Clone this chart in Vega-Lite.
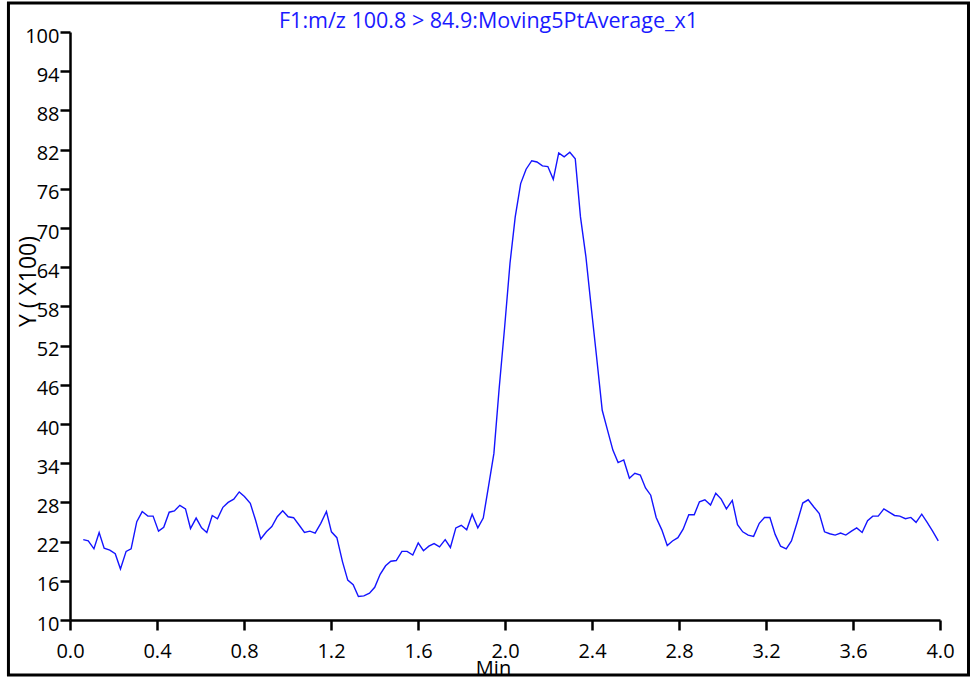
{
  "$schema": "https://vega.github.io/schema/vega-lite/v6.json",
  "width": 870,
  "height": 588,
  "autosize": "none",
  "padding": {"left": 70, "top": 32, "right": 31, "bottom": 57},
  "background": "white",
  "config": {
    "view": {"stroke": null},
    "font": "Open Sans",
    "axis": {
      "grid": false,
      "domainColor": "black", "domainWidth": 2.5,
      "tickColor": "black", "tickWidth": 2.5, "tickSize": 10,
      "labelFontSize": 20, "labelColor": "black", "labelFont": "Open Sans",
      "labelFlush": false, "labelOverlap": false, "labelBound": false,
      "titleFontSize": 20, "titleFontWeight": "normal", "titleColor": "black", "titleFont": "Open Sans"
    },
    "axisX": {"labelPadding": 11, "tickCount": 20},
    "axisY": {"labelPadding": 1, "labelOffset": 4, "tickCount": 30}
  },
  "resolve": {"axis": {"x": "independent"}},
  "layer": [
    {
      "data": {"values": [
        {"time": 0.061, "y": 22.3}, {"time": 0.084, "y": 22.1}, {"time": 0.110, "y": 20.9}, {"time": 0.134, "y": 23.4},
        {"time": 0.157, "y": 21.0}, {"time": 0.183, "y": 20.7}, {"time": 0.208, "y": 20.15}, {"time": 0.232, "y": 17.8},
        {"time": 0.258, "y": 20.5}, {"time": 0.281, "y": 20.9}, {"time": 0.307, "y": 25.05}, {"time": 0.332, "y": 26.6},
        {"time": 0.358, "y": 25.9}, {"time": 0.382, "y": 25.9}, {"time": 0.407, "y": 23.6}, {"time": 0.431, "y": 24.2},
        {"time": 0.456, "y": 26.5}, {"time": 0.480, "y": 26.7}, {"time": 0.505, "y": 27.55}, {"time": 0.531, "y": 27.0},
        {"time": 0.554, "y": 24.0}, {"time": 0.580, "y": 25.6}, {"time": 0.605, "y": 24.1}, {"time": 0.629, "y": 23.4},
        {"time": 0.654, "y": 26.0}, {"time": 0.678, "y": 25.5}, {"time": 0.703, "y": 27.25}, {"time": 0.727, "y": 28.0},
        {"time": 0.753, "y": 28.5}, {"time": 0.778, "y": 29.6}, {"time": 0.802, "y": 28.9}, {"time": 0.829, "y": 27.85},
        {"time": 0.853, "y": 25.3}, {"time": 0.877, "y": 22.4}, {"time": 0.903, "y": 23.5}, {"time": 0.928, "y": 24.3},
        {"time": 0.953, "y": 25.8}, {"time": 0.978, "y": 26.7}, {"time": 1.003, "y": 25.8}, {"time": 1.028, "y": 25.66},
        {"time": 1.054, "y": 24.5}, {"time": 1.078, "y": 23.4}, {"time": 1.103, "y": 23.6}, {"time": 1.127, "y": 23.3},
        {"time": 1.153, "y": 24.8}, {"time": 1.179, "y": 26.6}, {"time": 1.202, "y": 23.5}, {"time": 1.227, "y": 22.6},
        {"time": 1.253, "y": 18.9}, {"time": 1.277, "y": 16.1}, {"time": 1.302, "y": 15.4}, {"time": 1.326, "y": 13.6},
        {"time": 1.351, "y": 13.7}, {"time": 1.377, "y": 14.1}, {"time": 1.401, "y": 15.0}, {"time": 1.426, "y": 17.0},
        {"time": 1.451, "y": 18.3}, {"time": 1.475, "y": 19.0}, {"time": 1.500, "y": 19.1}, {"time": 1.526, "y": 20.5},
        {"time": 1.550, "y": 20.5}, {"time": 1.576, "y": 19.95}, {"time": 1.601, "y": 21.8}, {"time": 1.625, "y": 20.6},
        {"time": 1.650, "y": 21.3}, {"time": 1.674, "y": 21.7}, {"time": 1.699, "y": 21.2}, {"time": 1.725, "y": 22.3},
        {"time": 1.749, "y": 21.1}, {"time": 1.774, "y": 24.1}, {"time": 1.799, "y": 24.5}, {"time": 1.824, "y": 23.8},
        {"time": 1.849, "y": 26.2}, {"time": 1.875, "y": 24.1}, {"time": 1.900, "y": 25.6}, {"time": 1.924, "y": 30.4},
        {"time": 1.949, "y": 35.5}, {"time": 1.973, "y": 45.4}, {"time": 1.998, "y": 54.7}, {"time": 2.023, "y": 64.6},
        {"time": 2.047, "y": 71.7}, {"time": 2.072, "y": 76.8}, {"time": 2.097, "y": 79.0}, {"time": 2.123, "y": 80.3},
        {"time": 2.147, "y": 80.1}, {"time": 2.172, "y": 79.5}, {"time": 2.197, "y": 79.4}, {"time": 2.222, "y": 77.45},
        {"time": 2.247, "y": 81.5}, {"time": 2.272, "y": 80.9}, {"time": 2.298, "y": 81.6}, {"time": 2.323, "y": 80.6},
        {"time": 2.347, "y": 71.7}, {"time": 2.372, "y": 65.6}, {"time": 2.396, "y": 58.0}, {"time": 2.421, "y": 50.3},
        {"time": 2.447, "y": 42.1}, {"time": 2.471, "y": 39.1}, {"time": 2.496, "y": 36.0}, {"time": 2.520, "y": 34.1},
        {"time": 2.546, "y": 34.5}, {"time": 2.572, "y": 31.7}, {"time": 2.597, "y": 32.45}, {"time": 2.622, "y": 32.2},
        {"time": 2.646, "y": 30.2}, {"time": 2.670, "y": 29.1}, {"time": 2.695, "y": 25.7}, {"time": 2.721, "y": 23.8},
        {"time": 2.746, "y": 21.4}, {"time": 2.770, "y": 22.1}, {"time": 2.795, "y": 22.6}, {"time": 2.819, "y": 23.9},
        {"time": 2.845, "y": 26.1}, {"time": 2.870, "y": 26.1}, {"time": 2.894, "y": 28.1}, {"time": 2.919, "y": 28.4},
        {"time": 2.945, "y": 27.6}, {"time": 2.969, "y": 29.4}, {"time": 2.994, "y": 28.5}, {"time": 3.018, "y": 27.0},
        {"time": 3.045, "y": 28.3}, {"time": 3.069, "y": 24.6}, {"time": 3.093, "y": 23.5}, {"time": 3.118, "y": 23.0},
        {"time": 3.143, "y": 22.8}, {"time": 3.169, "y": 24.8}, {"time": 3.193, "y": 25.7}, {"time": 3.218, "y": 25.7},
        {"time": 3.242, "y": 23.1}, {"time": 3.267, "y": 21.3}, {"time": 3.293, "y": 20.9}, {"time": 3.317, "y": 22.1},
        {"time": 3.342, "y": 24.8}, {"time": 3.369, "y": 27.9}, {"time": 3.394, "y": 28.4}, {"time": 3.420, "y": 27.3},
        {"time": 3.445, "y": 26.3}, {"time": 3.469, "y": 23.5}, {"time": 3.493, "y": 23.2}, {"time": 3.518, "y": 23.0},
        {"time": 3.543, "y": 23.3}, {"time": 3.567, "y": 23.0}, {"time": 3.593, "y": 23.6}, {"time": 3.617, "y": 24.1},
        {"time": 3.642, "y": 23.4}, {"time": 3.667, "y": 25.2}, {"time": 3.691, "y": 25.9}, {"time": 3.716, "y": 25.9},
        {"time": 3.742, "y": 27.0}, {"time": 3.766, "y": 26.5}, {"time": 3.791, "y": 26.0}, {"time": 3.815, "y": 25.9},
        {"time": 3.841, "y": 25.5}, {"time": 3.866, "y": 25.7}, {"time": 3.890, "y": 24.95}, {"time": 3.916, "y": 26.2},
        {"time": 3.941, "y": 24.95}, {"time": 3.966, "y": 23.6}, {"time": 3.992, "y": 22.1}
      ]},
      "mark": {"type": "line", "color": "#1414ff", "strokeWidth": 1.4},
      "encoding": {
        "x": {
          "field": "time", "type": "quantitative",
          "scale": {"domain": [0, 4], "nice": false, "zero": false},
          "axis": {
            "orient": "bottom",
            "values": [0, 0.4, 0.8, 1.2, 1.6, 2.0, 2.4, 2.8, 3.2, 3.6, 4.0],
            "format": ".1f",
            "title": "Min",
            "titleX": 423, "titleY": 54, "titleBaseline": "alphabetic", "titleAlign": "center"
          }
        },
        "y": {
          "field": "y", "type": "quantitative",
          "scale": {"domain": [10, 100], "nice": false, "zero": false},
          "axis": {
            "values": [10, 16, 22, 28, 34, 40, 46, 52, 58, 64, 70, 76, 82, 88, 94, 100],
            "title": "Y ( X100)",
            "titleFontSize": 23,
            "titleX": -42, "titleY": 249, "titleAngle": -90, "titleAlign": "center", "titleBaseline": "middle"
          }
        }
      }
    },
    {
      "data": {"values": [{"frame": "border"}]},
      "mark": {"type": "rect", "filled": false, "stroke": "black", "strokeWidth": 3, "clip": false},
      "encoding": {
        "x": {
          "datum": -0.283, "type": "quantitative",
          "axis": {
            "orient": "top",
            "domain": false, "ticks": false, "labels": false,
            "title": "F1:m/z 100.8 > 84.9:Moving5PtAverage_x1",
            "titleColor": "#1a1aff", "titleFontSize": 21.5,
            "titleX": 418, "titleY": -5, "titleBaseline": "alphabetic", "titleAlign": "center"
          }
        },
        "x2": {"datum": 4.131},
        "y": {"datum": 104.44, "type": "quantitative"},
        "y2": {"datum": 1.58}
      }
    }
  ]
}
